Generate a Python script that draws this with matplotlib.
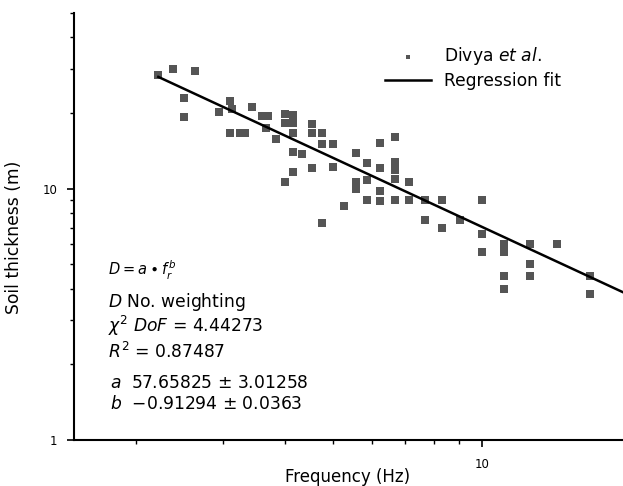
import numpy as np
import matplotlib.pyplot as plt
from matplotlib.ticker import NullFormatter, FixedLocator, FixedFormatter

plt.rcParams['font.family'] = ['DejaVu Sans']
plt.rcParams['mathtext.fontset'] = 'dejavusans'

# resonance frequency (Hz) and soil thickness (m), Divya et al.
freq = [2.22, 2.38, 2.63, 2.50, 2.50, 2.94, 3.10, 3.13, 3.10, 3.24,
        3.32, 3.44, 3.60, 3.69, 3.67, 3.84, 4.00, 4.00, 4.15, 4.15,
        4.15, 4.15, 4.33, 4.15, 4.00, 4.54, 4.54, 4.75, 4.75, 5.00,
        4.54, 5.00, 4.75, 5.26, 5.56, 5.56, 5.56, 5.85, 5.85, 5.85,
        6.22, 6.22, 6.22, 6.22, 6.67, 6.67, 6.67, 6.67, 6.67, 7.12,
        7.12, 7.67, 7.67, 8.30, 8.30, 9.03, 10.0, 10.0, 10.0, 11.1,
        11.1, 11.1, 11.1, 12.5, 12.5, 12.5, 14.2, 16.5, 16.5]
thickness = [28.2, 30.0, 29.3, 23.0, 19.2, 20.1, 22.4, 20.8, 16.7, 16.7,
             16.7, 21.2, 19.4, 19.4, 17.5, 15.7, 19.9, 18.3, 19.7, 18.3,
             16.7, 14.0, 13.7, 11.6, 10.6, 18.1, 16.7, 16.7, 15.0, 15.0,
             12.1, 12.2, 7.3, 8.5, 13.9, 10.6, 10.0, 12.6, 10.8, 9.0,
             15.2, 12.1, 9.8, 8.9, 16.1, 12.8, 11.9, 10.9, 9.0, 10.6,
             9.0, 9.0, 7.5, 9.0, 7.0, 7.5, 9.0, 6.6, 5.6, 6.0,
             5.6, 4.5, 4.0, 6.0, 5.0, 4.5, 6.0, 4.5, 3.8]

# regression parameters D = a * f^b
a = 57.65825
b = -0.91294
fit_range = [2.22, 20]

fig = plt.figure(figsize=(6.23, 4.86), dpi=100)
ax = fig.add_axes([0.1188, 0.0947, 0.894, 0.8786])

ax.scatter(freq, thickness, marker='s', s=27, color='#555555', linewidths=0,
           label=r'Divya $et\ al.$', zorder=2)
ff = np.geomspace(fit_range[0], fit_range[1], 50)
ax.plot(ff, a * ff ** b, color='black', lw=1.8, label='Regression fit', zorder=3)

ax.set_xscale('log')
ax.set_yscale('log')
ax.set_xlim(1.5, 20)
ax.set_ylim(1, 50)

ax.xaxis.set_major_locator(FixedLocator([10]))
ax.xaxis.set_major_formatter(FixedFormatter(['10']))
ax.xaxis.set_minor_locator(FixedLocator([2, 3, 4, 5, 6, 7, 8, 9, 20]))
ax.xaxis.set_minor_formatter(NullFormatter())
ax.yaxis.set_major_locator(FixedLocator([1, 10]))
ax.yaxis.set_major_formatter(FixedFormatter(['1', '10']))
ax.yaxis.set_minor_locator(FixedLocator([2, 3, 4, 5, 6, 7, 8, 9, 20, 30, 40, 50]))
ax.yaxis.set_minor_formatter(NullFormatter())

ax.tick_params(which='major', direction='out', length=5, width=1.2, labelsize=8.5)
ax.tick_params(axis='x', which='major', pad=8)
ax.tick_params(axis='y', which='major', pad=7)
ax.tick_params(which='minor', direction='out', length=3, width=1.0)

for s in ['top', 'right']:
    ax.spines[s].set_visible(False)
for s in ['left', 'bottom']:
    ax.spines[s].set_linewidth(1.5)

ax.set_xlabel('Frequency (Hz)', fontsize=12)
ax.xaxis.set_label_coords(0.492, -0.066)
ax.set_ylabel('Soil thickness (m)', fontsize=12.3)
ax.yaxis.set_label_coords(-0.092, 0.475)

lines = [
    (0.061, 0.398, 10.5, r'$D = a \bullet f_r^{\,b}$'),
    (0.061, 0.323, 12.3, r'$D$ No. weighting'),
    (0.061, 0.267, 12.3, r'$\chi^2$ $DoF$ = 4.44273'),
    (0.061, 0.206, 12.3, r'$R^2$ = 0.87487'),
    (0.065, 0.1335, 12.3, r'$a$  57.65825 ± 3.01258'),
    (0.065, 0.0843, 12.3, r'$b$  −0.91294 ± 0.0363'),
]
for x, y, fs, t in lines:
    ax.text(x, y, t, transform=ax.transAxes, fontsize=fs, va='center', ha='left')

ax.legend(loc='upper left', bbox_to_anchor=(0.558, 0.925), frameon=False,
          fontsize=12.3, handlelength=2.7, handletextpad=0.75, labelspacing=0.3,
          borderpad=0, borderaxespad=0, markerscale=0.6)

fig.savefig('out.png', dpi=100)
